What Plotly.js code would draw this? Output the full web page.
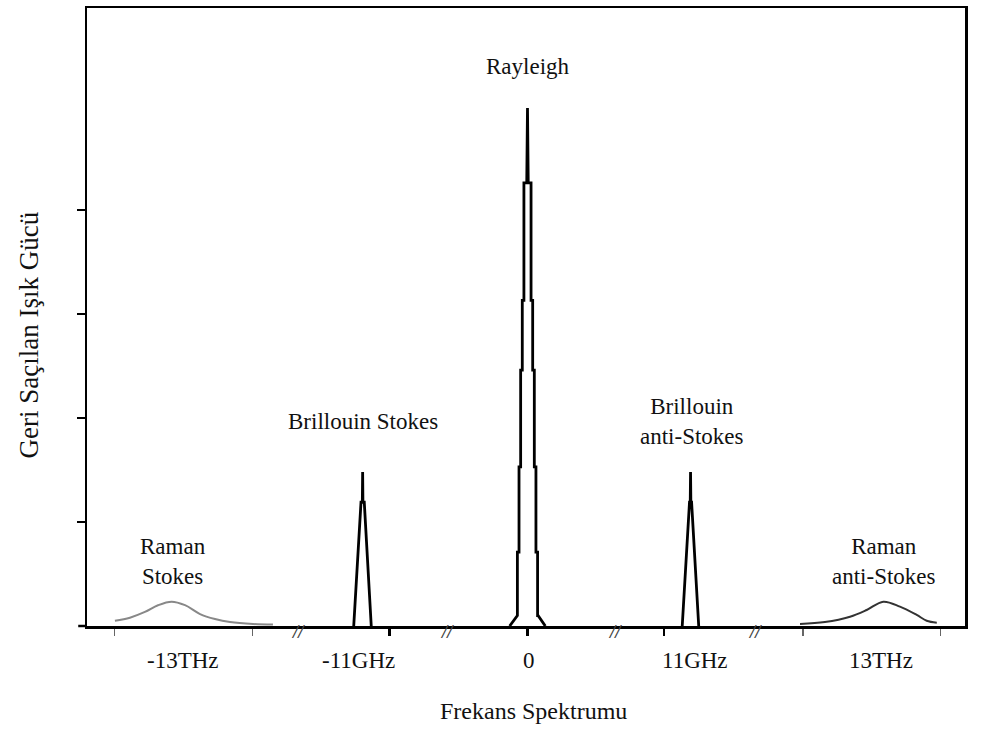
<!DOCTYPE html>
<html>
<head>
<meta charset="utf-8">
<script src="https://cdn.plot.ly/plotly-3.0.1.min.js"></script>
<style>
html,body{margin:0;padding:0;background:#fff;}
#chart{width:998px;height:731px;}
</style>
</head>
<body>
<div id="chart"></div>
<script>
// Display positions along the (broken) frequency axis, in arbitrary display units
// Rayleigh peak outline (stepped)
const rayleighX = [-1.20, -0.72, -0.68, -0.68, -0.57, -0.57, -0.46, -0.46, -0.35, -0.35, -0.24, -0.24, -0.05, 0.00,
                   0.05, 0.24, 0.24, 0.35, 0.35, 0.46, 0.46, 0.57, 0.57, 0.68, 0.68, 0.72, 1.20];
const rayleighY = [0.00, 0.10, 0.10, 0.71, 0.71, 1.53, 1.53, 2.46, 2.46, 3.13, 3.13, 4.26, 4.26, 4.98,
                   4.26, 4.26, 3.13, 3.13, 2.46, 2.46, 1.53, 1.53, 0.71, 0.71, 0.10, 0.10, 0.00];

// Brillouin Stokes peak
const brillouinStokesX = [-11.70, -11.58, -11.46, -11.35, -11.21, -11.12, -11.10, -11.08, -10.99, -10.88, -10.76, -10.65, -10.52];
const brillouinStokesY = [0.00, 0.32, 0.63, 0.92, 1.19, 1.19, 1.48, 1.19, 1.19, 0.92, 0.63, 0.32, 0.00];

// Brillouin anti-Stokes peak
const brillouinAntiX = [10.42, 10.54, 10.66, 10.77, 10.91, 10.96, 10.98, 11.00, 11.05, 11.16, 11.28, 11.39, 11.53];
const brillouinAntiY = [0.00, 0.32, 0.63, 0.92, 1.19, 1.19, 1.48, 1.19, 1.19, 0.92, 0.63, 0.32, 0.00];

// Raman Stokes band
const ramanStokesX = [-27.78, -26.77, -25.76, -24.88, -23.96, -23.06, -22.05, -21.04, -20.03, -18.48, -17.14];
const ramanStokesY = [0.05, 0.08, 0.135, 0.20, 0.234, 0.20, 0.115, 0.067, 0.038, 0.019, 0.014];

// Raman anti-Stokes band
const ramanAntiX = [18.35, 20.03, 21.72, 22.84, 23.96, 25.08, 26.21, 26.88, 27.56];
const ramanAntiY = [0.019, 0.038, 0.089, 0.154, 0.234, 0.186, 0.106, 0.051, 0.032];

// Axis ticks (no numeric labels)
const xMajorTicks = [-9.3, 0, 9.2];
const xMinorTicks = [-27.8, -18.5, 18.55, 27.8];
const yTicks = [1, 2, 3, 4];

// Frequency labels under the axis
const freqLabels = ['-13THz', '-11GHz', '0', '11GHz', '13THz'];
const freqLabelX = [-23.2, -11.4, 0.1, 11.3, 23.8];

// Axis break marks
const breakX = [-15.45, -5.42, 5.89, 15.32];

// Peak names
const peakNames = ['Rayleigh', 'Brillouin Stokes', 'Brillouin<br>anti-Stokes', 'Raman<br>Stokes', 'Raman<br>anti-Stokes'];
const peakNameX = [0.05, -11.1, 11.1, -23.9, 24.0];
const peakNameY = [5.38, 1.97, 1.97, 0.62, 0.62];

// Axis titles
const xTitle = 'Frekans Spektrumu';
const yTitle = 'Geri Saçılan Işık Gücü';

const FONT = 'Liberation Serif, Times New Roman, serif';

const traces = [
  {x: rayleighX, y: rayleighY, mode: 'lines', line: {color: '#000', width: 2.8}, hoverinfo: 'skip'},
  {x: brillouinStokesX, y: brillouinStokesY, mode: 'lines', line: {color: '#000', width: 2.8}, hoverinfo: 'skip'},
  {x: brillouinAntiX, y: brillouinAntiY, mode: 'lines', line: {color: '#000', width: 2.8}, hoverinfo: 'skip'},
  {x: ramanStokesX, y: ramanStokesY, mode: 'lines', line: {color: '#888', width: 2, shape: 'spline'}, hoverinfo: 'skip'},
  {x: ramanAntiX, y: ramanAntiY, mode: 'lines', line: {color: '#333', width: 2, shape: 'spline'}, hoverinfo: 'skip'}
];

const annotations = [];
peakNames.forEach((t, i) => annotations.push({
  x: peakNameX[i], y: peakNameY[i], xref: 'x', yref: 'y', text: t, showarrow: false,
  font: {family: FONT, size: 23, color: '#111'}, align: 'center', xanchor: 'center', yanchor: 'middle'
}));
freqLabels.forEach((t, i) => annotations.push({
  x: freqLabelX[i], y: 0, xref: 'x', yref: 'y', text: t, showarrow: false, yshift: -34,
  font: {family: FONT, size: 23, color: '#111'}, xanchor: 'center', yanchor: 'middle'
}));
breakX.forEach((bx) => annotations.push({
  x: bx, y: 0, xref: 'x', yref: 'y', text: '<b><i>//</i></b>', showarrow: false, yshift: -5,
  font: {family: FONT, size: 19, color: '#444'}, xanchor: 'center', yanchor: 'middle'
}));
annotations.push({
  x: 0.4, y: 0, xref: 'x', yref: 'y', text: xTitle, showarrow: false, yshift: -85,
  font: {family: FONT, size: 24, color: '#111'}, xanchor: 'center', yanchor: 'middle'
});
annotations.push({
  x: -0.0655, y: 0, xref: 'paper', yref: 'y', text: yTitle, showarrow: false, textangle: -90,
  yshift: 291, font: {family: FONT, size: 27, color: '#111'}, xanchor: 'center', yanchor: 'middle'
});

const layout = {
  width: 998, height: 731,
  margin: {l: 87, r: 33, t: 8, b: 105},
  paper_bgcolor: '#fff', plot_bgcolor: '#fff',
  showlegend: false,
  xaxis: {
    range: [-29.66, 29.46], showgrid: false, zeroline: false,
    showline: true, mirror: true, linecolor: '#000', linewidth: 2.5,
    tickmode: 'array', tickvals: xMajorTicks, showticklabels: false,
    ticks: 'outside', ticklen: 7, tickwidth: 2.5, tickcolor: '#000',
    minor: {tickmode: 'array', tickvals: xMinorTicks, ticks: 'outside', ticklen: 7, tickwidth: 1.2, tickcolor: '#666'}
  },
  yaxis: {
    range: [0, 5.942], showgrid: false, zeroline: false,
    showline: true, mirror: true, linecolor: '#000', linewidth: 2.5,
    tickmode: 'array', tickvals: yTicks, showticklabels: false,
    ticks: 'outside', ticklen: 8, tickwidth: 2.5, tickcolor: '#000'
  },
  shapes: [
    {type: 'line', xref: 'paper', yref: 'paper', x0: -0.01, x1: 0, y0: 0, y1: 0, line: {color: '#000', width: 2.5}}
  ],
  annotations: annotations
};

Plotly.newPlot('chart', traces, layout, {staticPlot: true, displayModeBar: false});
</script>
</body>
</html>
